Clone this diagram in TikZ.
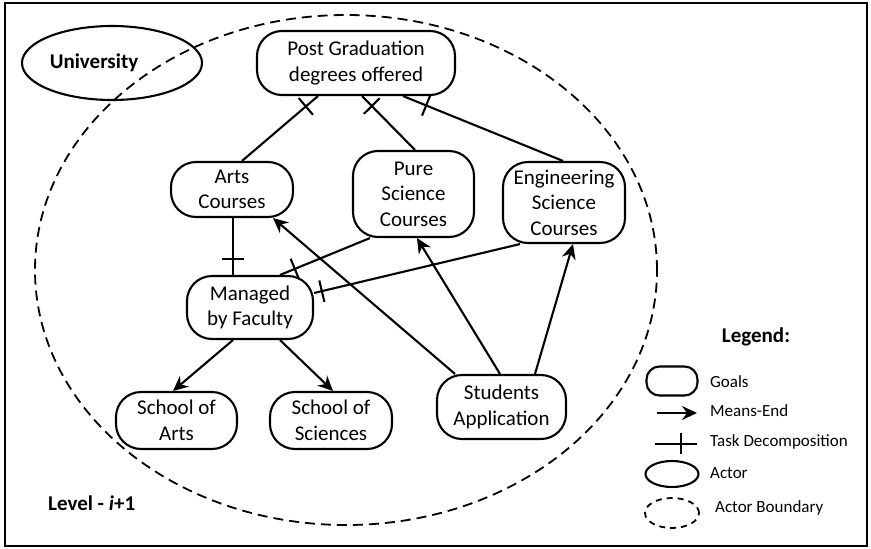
\documentclass[tikz,border=0pt]{standalone}
\usepackage{fontspec}
\setmainfont{Carlito}
\usetikzlibrary{arrows.meta,decorations.markings,shapes.geometric}

\tikzset{
  x=1pt, y=-1pt,
  maintext/.style={font=\fontsize{21}{25.6}\selectfont},
  legtext/.style={font=\fontsize{17}{20}\selectfont, anchor=west, inner sep=0pt},
  goal/.style={draw, line width=2.1pt, rounded corners=25pt, align=center,
    inner sep=0pt, maintext},
  actor/.style={draw, ellipse, line width=2.1pt, inner sep=0pt},
  boundary/.style={draw, ellipse, line width=1.8pt, inner sep=0pt,
    dash pattern=on 10pt off 6pt},
  link/.style={line width=2.1pt},
  meansend/.style={link, -{Stealth[length=15pt,width=14pt,inset=5pt]}},
  decomp/.style={link, postaction={decorate},
    decoration={markings,
      mark=at position #1 with {\draw[line width=2.1pt] (0,-11pt) -- (0,11pt);}}},
  decomp/.default=16pt,
}

\begin{document}
\begin{tikzpicture}
\useasboundingbox (0,0) rectangle (871,549);

% outer frame
\draw[line width=2.6pt] (5,3) rectangle (867,546);

% actor boundary of the university
\node[boundary, minimum width=622pt, minimum height=510pt] (bnd) at (346,270) {};

% actor
\node[actor, minimum width=180pt, minimum height=74pt] (univ) at (112,63) {};
\node[maintext, font=\bfseries\fontsize{21}{25.6}\selectfont] (univtext) at (94,63) {University};

% goals
\node[goal, minimum width=198pt, minimum height=64pt] (post) at (356,63) {Post Graduation\\degrees offered};
\node[goal, minimum width=122pt, minimum height=55pt] (arts) at (232,189.5) {Arts\\Courses};
\node[goal, minimum width=121pt, minimum height=86pt] (pure) at (413.5,194) {Pure\\Science\\Courses};
\node[goal, minimum width=122pt, minimum height=81pt] (eng) at (564,202.5) {Engineering\\Science\\Courses};
\node[goal, minimum width=126pt, minimum height=63pt] (fac) at (250,307.5) {Managed\\by Faculty};
\node[goal, minimum width=121pt, minimum height=57pt] (sarts) at (176.5,420.5) {School of\\Arts};
\node[goal, minimum width=122pt, minimum height=57pt] (ssci) at (331,420.5) {School of\\Sciences};
\node[goal, minimum width=129pt, minimum height=64pt] (stud) at (501.5,407) {Students\\Application};

% task decompositions
\draw[decomp=16pt] ([xshift=-38pt]post.south) -- ([xshift=10pt]arts.north);
\draw[decomp=14pt] ([xshift=6pt]post.south) -- ([xshift=1.5pt]pure.north);
\draw[decomp=25pt] ([xshift=47pt]post.south) -- ([xshift=-1pt]eng.north);
\draw[decomp=16pt] ([xshift=-17pt]fac.north) -- ([xshift=1pt]arts.south);
\draw[decomp=16pt] ([xshift=30pt]fac.north) -- ([xshift=-43.5pt]pure.south);
\draw[decomp=8pt] ([yshift=14.5pt]fac.east) -- ([xshift=-44pt]eng.south);

% means-end links
\draw[meansend] ([xshift=-17pt]fac.south) -- ([xshift=-3.5pt]sarts.north);
\draw[meansend] ([xshift=30pt]fac.south) -- ([xshift=2pt]ssci.north);
\draw[meansend] ([xshift=-46.5pt]stud.north) -- ([xshift=41pt]arts.south);
\draw[meansend] ([xshift=-1.5pt]stud.north) -- ([xshift=3.5pt]pure.south);
\draw[meansend] ([xshift=33.5pt]stud.north) -- ([xshift=9pt]eng.south);

% level label
\node[anchor=west, inner sep=0pt, font=\bfseries\fontsize{21}{25.6}\selectfont] (lvl) at (48,503) {Level - \textit{i}+1};

% legend
\node[font=\bfseries\fontsize{21}{25.6}\selectfont] (leg) at (756,337) {Legend:};
\node[goal, minimum width=51pt, minimum height=29pt, rounded corners=13pt] (lgoal) at (672,381) {};
\coordinate (lme1) at (657,413);
\coordinate (lme2) at (697,413);
\draw[meansend] (lme1) -- (lme2);
\coordinate (ltd1) at (655,444);
\coordinate (ltd2) at (697,444);
\coordinate (ltb1) at (681,433);
\coordinate (ltb2) at (681,454);
\draw[link] (ltd1) -- (ltd2);
\draw[link] (ltb1) -- (ltb2);
\node[actor, minimum width=53pt, minimum height=26pt] (lact) at (672,474) {};
\node[boundary, minimum width=54pt, minimum height=30pt, dash pattern=on 6pt off 5pt] (lbnd) at (672,513) {};

\node[legtext] (tgoal) at (710,382) {Goals};
\node[legtext] (tme) at (710,411) {Means-End};
\node[legtext] (ttd) at (710,442) {Task Decomposition};
\node[legtext] (tact) at (710,473) {Actor};
\node[legtext] (tbnd) at (715,508) {Actor Boundary};
\end{tikzpicture}
\end{document}
